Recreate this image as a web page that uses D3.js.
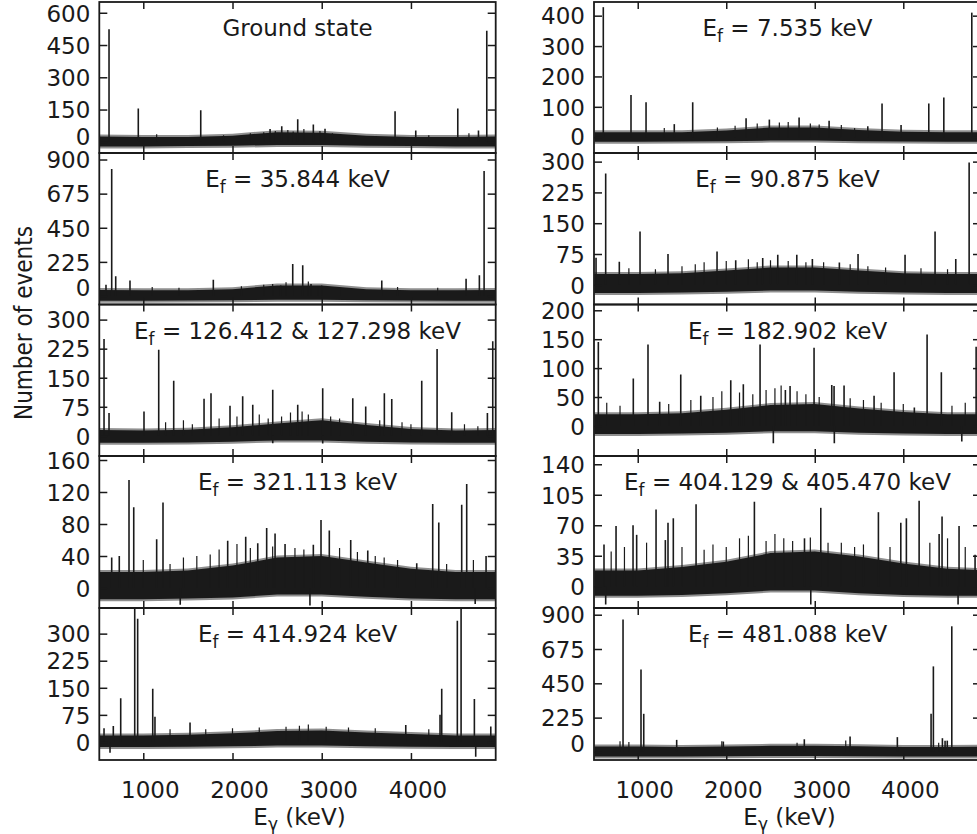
<!DOCTYPE html>
<html><head><meta charset="utf-8">
<script src="https://cdn.jsdelivr.net/npm/d3@7"></script>
<style>
body{margin:0;background:#fff}
svg{display:block}
text{font-family:"DejaVu Sans",sans-serif;fill:#1a1a1a}
</style>
</head><body>
<svg id="c" width="977" height="834"></svg>
<script>
// ---------- data ----------
const xTickValues = [1000, 2000, 3000, 4000];
const bandKeV = [510, 1000, 1500, 2000, 2500, 3000, 3500, 4000, 4500, 4950];

const levelLabels = ["Ground state", "35.844", "126.412 & 127.298", "321.113", "414.924",
                     "7.535", "90.875", "182.902", "404.129 & 405.470", "481.088"];

const yTicksGround = [0, 150, 300, 450, 600];
const yTicks35 = [0, 225, 450, 675, 900];
const yTicks126 = [0, 75, 150, 225, 300];
const yTicks321 = [0, 40, 80, 120, 160];
const yTicks414 = [0, 75, 150, 225, 300];
const yTicks7 = [0, 100, 200, 300, 400];
const yTicks90 = [0, 75, 150, 225, 300];
const yTicks182 = [0, 50, 100, 150, 200];
const yTicks404 = [0, 35, 70, 105, 140];
const yTicks481 = [0, 225, 450, 675, 900];

// strong lines [E_gamma (keV), counts]
const peaksGround = [[616,523],[944,155],[1644,147],[2421,60],[2552,72],[2731,105],[2906,81],[3037,61],[3822,142],[4054,53],[4525,155],[4757,53],[4850,516]];
const peaks35 = [[582,75],[646,838],[691,130],[851,102],[1785,108],[2540,70],[2675,211],[2787,202],[2880,80],[2960,60],[3673,102],[4618,113],[4767,137],[4820,825]];
const peaks126 = [[560,250],[616,59],[1008,63],[1173,222],[1341,142],[1681,96],[1759,110],[1972,78],[2114,102],[2227,80],[2451,119],[2731,80],[3011,123],[3348,97],[3493,76],[3702,110],[3785,95],[4121,142],[4293,224],[4457,61],[4857,59],[4917,244]];
const peaks321 = [[646,38],[731,40],[840,135],[893,101],[1150,61],[1221,107],[1946,59],[2148,64],[2283,56],[2383,75],[2477,68],[2589,55],[2906,54],[2992,85],[3085,72],[3325,60],[3516,47],[4065,31],[4244,105],[4312,82],[4569,104],[4625,130],[4842,40]];
const peaks414 = [[560,38],[664,44],[747,121],[904,420],[937,341],[1106,147],[1131,70],[1524,54],[3942,47],[4326,75],[4345,147],[4520,336],[4562,420],[4711,119],[4895,43]];
const peaks7 = [[611,428],[924,139],[1094,115],[1413,43],[1621,115],[2224,62],[2487,58],[2823,65],[3162,54],[3599,36],[3760,111],[3975,40],[4288,111],[4458,131],[4774,410]];
const peaks90 = [[529,66],[638,271],[792,56],[1026,130],[1342,75],[1896,81],[2107,60],[2412,65],[2582,73],[2797,73],[2973,63],[3278,54],[3489,75],[4020,73],[4359,130],[4593,63],[4744,298]];
const peaks182 = [[555,145],[950,82],[1116,141],[1248,42],[1486,89],[1712,52],[2051,79],[2193,72],[2382,141],[2668,62],[2721,69],[2992,135],[3192,71],[3218,69],[3331,70],[3670,52],[3896,93],[4125,32],[4269,158],[4430,93],[4823,137]];
const peaks404 = [[619,48],[755,69],[947,70],[988,59],[1207,88],[1312,53],[1342,73],[1402,78],[1659,94],[2318,97],[2884,55],[3068,90],[3719,85],[3972,73],[4035,78],[4179,98],[4405,60],[4438,80],[4630,69],[4811,36]];
const peaks481 = [[834,869],[1037,540],[1068,250],[1440,79],[1967,68],[2882,83],[3399,101],[3933,97],[4314,250],[4340,561],[4442,90],[4472,74],[4497,74],[4548,824]];

// small fluctuations poking out of the noise band [E_gamma, counts]
const minorGround = [[1150,35],[1900,30],[2200,40],[2350,45],[2480,50],[2620,55],[2680,48],[2800,60],[2980,50],[3120,40],[4200,30],[4650,40]];
const minor35 = [[1100,60],[1400,55],[2100,65],[2350,75],[2450,80],[2600,90],[2850,95],[3000,70],[3200,60],[3850,60],[4300,55]];
const minor126 = [[1250,35],[1450,40],[1550,30],[1850,45],[2050,50],[2300,55],[2400,45],[2550,50],[2650,60],[2780,63],[2850,55],[3100,50],[3200,45],[3650,40],[3900,35],[4000,30],[4600,30],[4750,25]];
const minor321 = [[1000,35],[1300,30],[1450,38],[1600,40],[1750,42],[1850,48],[2050,55],[2200,50],[2450,52],[2700,50],[2800,48],[3200,50],[3400,45],[3600,40],[3700,38],[3850,35],[4400,30],[4700,35]];
const minor414 = [[1300,35],[1700,35],[2000,38],[2300,40],[2600,42],[2750,45],[2850,48],[3050,42],[3300,40],[3600,38],[4200,35]];
const minor7 = [[1300,30],[1900,32],[2100,38],[2350,45],[2600,48],[2700,50],[2950,45],[3050,42],[3300,40],[3450,30]];
const minor90 = [[900,40],[1200,38],[1500,45],[1650,50],[1750,55],[2000,58],[2250,62],[2350,55],[2500,60],[2700,58],[2900,55],[3100,55],[3400,50],[3600,45],[3800,42],[4200,40],[4500,38]];
const minor182 = [[650,40],[800,35],[1350,38],[1600,45],[1850,50],[1950,60],[2150,58],[2300,55],[2450,62],[2550,65],[2620,70],[2800,60],[2900,55],[3050,50],[3400,48],[3550,45],[3750,40],[4000,38],[4550,35],[4700,40]];
const minor404 = [[700,40],[850,45],[1100,50],[1500,45],[1750,42],[1850,48],[2000,45],[2150,55],[2250,58],[2450,52],[2550,60],[2650,55],[2750,52],[2950,56],[3150,50],[3300,50],[3450,45],[3550,48],[3850,45],[4300,50],[4500,55],[4700,45]];
const minor481 = [[800,70],[900,65],[1950,70],[2800,60],[3350,75],[4400,60]];

// downward spikes [E_gamma, counts]
const dipsGround = [], dips35 = [], dips126 = [[2451,-19],[3011,-20]];
const dips321 = [[1414,-21],[2868,-22],[4720,-20]];
const dips414 = [[627,-30],[4726,-41]];
const dips7 = [], dips90 = [];
const dips182 = [[2532,-30],[3221,-30],[4661,-27]];
const dips404 = [[638,-21],[2955,-21],[4619,-21]];
const dips481 = [];

// noise band envelope at bandKeV (counts)
const hiGround = [25,22,22,28,45,42,28,22,22,25],  loGround = [-22,-22,-20,-18,-15,-15,-18,-20,-22,-22];
const hi35 = [40,38,38,45,70,70,45,38,38,40],      lo35 = [-32,-32,-30,-28,-25,-25,-28,-30,-32,-32];
const hi126 = [15,14,16,22,32,40,28,18,14,15],     lo126 = [-18,-18,-17,-15,-12,-12,-15,-17,-18,-18];
const hi321 = [20,20,22,28,38,40,32,24,20,20],     lo321 = [-14,-14,-13,-12,-8,-8,-11,-13,-14,-14];
const hi414 = [18,18,20,24,30,32,26,22,18,18],     lo414 = [-14,-14,-13,-12,-10,-10,-12,-13,-14,-14];
const hi7 = [16,16,16,22,32,32,24,18,16,16],       lo7 = [-15,-15,-14,-13,-11,-11,-13,-14,-15,-15];
const hi90 = [26,26,28,35,42,42,35,28,26,26],      lo90 = [-20,-20,-19,-17,-14,-14,-17,-19,-20,-20];
const hi182 = [20,20,22,28,36,38,30,24,20,20],     lo182 = [-14,-14,-13,-12,-9,-9,-12,-13,-14,-14];
const hi404 = [18,18,22,28,38,40,34,26,20,18],     lo404 = [-11,-11,-10,-8,-5,-5,-8,-10,-11,-11];
const hi481 = [35,35,33,35,40,40,38,33,33,35],     lo481 = [-30,-30,-30,-28,-27,-27,-28,-30,-30,-30];

// ---------- layout ----------
const colLeft = [99.3, 594], colRight = [495.7, 981];
const xDomains = [[507, 4950], [506, 4878]];
const rowEdges = [2, 153, 304.5, 456, 608, 760];
const yDomains = [[-52,650],[-56,943],[-52,339],[-25,165],[-50,371],
                  [-52,445],[-48,321],[-52,210],[-25,149.5],[-53,944]];

const panels = [
  {ticks:yTicksGround, peaks:peaksGround, minor:minorGround, dips:dipsGround, hi:hiGround, lo:loGround},
  {ticks:yTicks35, peaks:peaks35, minor:minor35, dips:dips35, hi:hi35, lo:lo35},
  {ticks:yTicks126, peaks:peaks126, minor:minor126, dips:dips126, hi:hi126, lo:lo126},
  {ticks:yTicks321, peaks:peaks321, minor:minor321, dips:dips321, hi:hi321, lo:lo321},
  {ticks:yTicks414, peaks:peaks414, minor:minor414, dips:dips414, hi:hi414, lo:lo414},
  {ticks:yTicks7, peaks:peaks7, minor:minor7, dips:dips7, hi:hi7, lo:lo7},
  {ticks:yTicks90, peaks:peaks90, minor:minor90, dips:dips90, hi:hi90, lo:lo90},
  {ticks:yTicks182, peaks:peaks182, minor:minor182, dips:dips182, hi:hi182, lo:lo182},
  {ticks:yTicks404, peaks:peaks404, minor:minor404, dips:dips404, hi:hi404, lo:lo404},
  {ticks:yTicks481, peaks:peaks481, minor:minor481, dips:dips481, hi:hi481, lo:lo481}
];

const INK = "#1a1a1a";
const FONT = '"DejaVu Sans",sans-serif';
const FS = 23, FS_SUB = 17;
const svg = d3.select("#c");
const defs = svg.append("defs");

panels.forEach((p, i) => {
  const col = i < 5 ? 0 : 1, row = i % 5;
  const top = rowEdges[row], bot = rowEdges[row + 1];
  const x = d3.scaleLinear().domain(xDomains[col]).range([colLeft[col], colRight[col]]);
  const y = d3.scaleLinear().domain(yDomains[i]).range([bot, top]);
  const cid = "clip" + i;
  defs.append("clipPath").attr("id", cid).append("rect")
    .attr("x", colLeft[col]).attr("y", top)
    .attr("width", colRight[col] - colLeft[col]).attr("height", bot - top);

  const g = svg.append("g");
  const plot = g.append("g").attr("clip-path", `url(#${cid})`);
  const band = bandKeV.map((e, k) => ({e, hi: p.hi[k], lo: p.lo[k]}));

  plot.append("path").datum(band)
    .attr("d", d3.area().x(d => x(d.e)).y0(d => y(d.lo) + 2).y1(d => y(d.hi) - 2))
    .attr("fill", "#8f8f8f");
  plot.append("path").datum(band)
    .attr("d", d3.area().x(d => x(d.e)).y0(d => y(d.lo)).y1(d => y(d.hi)))
    .attr("fill", INK);

  plot.selectAll("line.mn").data(p.minor).join("line")
    .attr("class", "mn")
    .attr("x1", d => x(d[0])).attr("x2", d => x(d[0]))
    .attr("y1", y(0)).attr("y2", d => y(d[1]))
    .attr("stroke", INK).attr("stroke-width", 1.2);

  plot.selectAll("line.pk").data(p.peaks.concat(p.dips)).join("line")
    .attr("class", "pk")
    .attr("x1", d => x(d[0])).attr("x2", d => x(d[0]))
    .attr("y1", y(0)).attr("y2", d => y(d[1]))
    .attr("stroke", INK).attr("stroke-width", 1.6);

  // axes (inward ticks on all sides)
  const yl = g.append("g").attr("transform", `translate(${colLeft[col]},0)`)
    .call(d3.axisLeft(y).tickValues(p.ticks).tickSize(-8).tickPadding(9));
  yl.select(".domain").remove();
  yl.attr("font-family", FONT).attr("font-size", FS).attr("color", INK);
  yl.selectAll("line").attr("stroke-width", 1.5);
  yl.selectAll("text").attr("y", d => Math.min(0, bot - 17 - y(d))).attr("dy", "0.36em");

  const yr = g.append("g").attr("transform", `translate(${colRight[col]},0)`)
    .call(d3.axisRight(y).tickValues(p.ticks).tickSize(-8).tickFormat(""));
  yr.select(".domain").remove();
  yr.attr("color", INK).selectAll("line").attr("stroke-width", 1.5);

  const xt = g.append("g").attr("transform", `translate(0,${top})`)
    .call(d3.axisTop(x).tickValues(xTickValues).tickSize(-7).tickFormat(""));
  xt.select(".domain").remove();
  xt.attr("color", INK).selectAll("line").attr("stroke-width", 1.5);

  const xb = g.append("g").attr("transform", `translate(0,${bot})`)
    .call(d3.axisBottom(x).tickValues(xTickValues).tickSize(-7).tickPadding(22)
      .tickFormat(row === 4 ? d3.format("d") : ""));
  xb.select(".domain").remove();
  xb.attr("font-family", FONT).attr("font-size", FS).attr("color", INK);
  xb.selectAll("line").attr("stroke-width", 1.5);
  xb.selectAll("text").attr("x", 6.5);

  // frame
  g.append("rect").attr("x", colLeft[col]).attr("y", top)
    .attr("width", colRight[col] - colLeft[col]).attr("height", bot - top)
    .attr("fill", "none").attr("stroke", INK).attr("stroke-width", 1.8);

  // title
  const cx = (colLeft[col] + colRight[col]) / 2;
  const t = g.append("text").attr("x", cx).attr("y", top + 34)
    .attr("text-anchor", "middle").attr("font-size", FS);
  if (i === 0) {
    t.text(levelLabels[i]);
  } else {
    t.append("tspan").text("E");
    t.append("tspan").attr("font-size", FS_SUB).attr("dy", 6).text("f");
    t.append("tspan").attr("dy", -6).text(" = " + levelLabels[i] + " keV");
  }
});

// axis titles
[0, 1].forEach(col => {
  const cx = (colLeft[col] + colRight[col]) / 2 + 2;
  const t = svg.append("text").attr("x", cx).attr("y", 825)
    .attr("text-anchor", "middle").attr("font-size", FS);
  t.append("tspan").text("E");
  t.append("tspan").attr("font-size", FS_SUB).attr("dy", 5).text("γ");
  t.append("tspan").attr("dy", -5).text(" (keV)");
});

svg.append("text").attr("transform", "translate(32,323) rotate(-90)")
  .attr("text-anchor", "middle").attr("font-size", 24)
  .style("font-family", '"DejaVu Sans Condensed","DejaVu Sans",sans-serif')
  .text("Number of events");
</script>
</body></html>
